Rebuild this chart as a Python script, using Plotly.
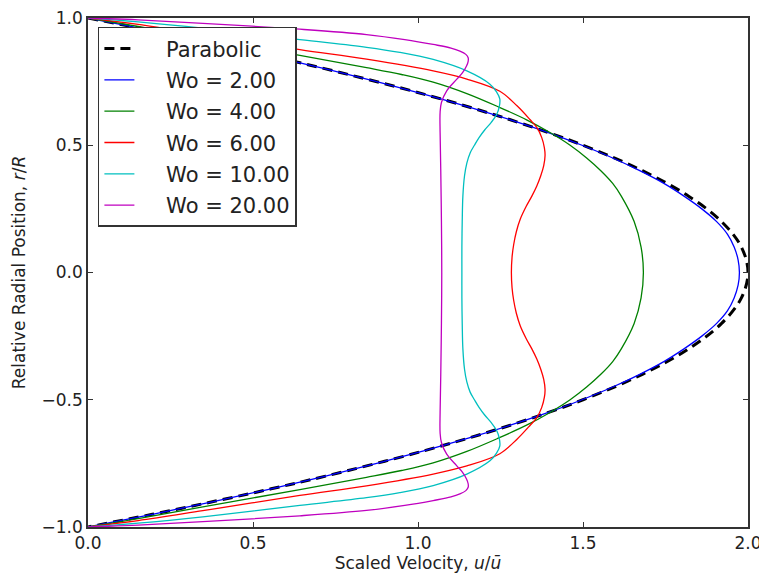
import plotly.graph_objects as go

# ---- data (upper half, wall r=1 -> centre r=0; profiles are symmetric) ----
r_parab = [1.0, 0.95, 0.9, 0.85, 0.8, 0.7, 0.6, 0.5, 0.4, 0.3, 0.2, 0.1, 0.0]
u_parab = [0.0, 0.195, 0.38, 0.555, 0.72, 1.02, 1.28, 1.5, 1.68, 1.82, 1.92, 1.98, 2.0]

r_wo2 = [1.0, 0.95, 0.9, 0.85, 0.8, 0.75, 0.7, 0.65, 0.6, 0.55, 0.5, 0.45, 0.4, 0.35, 0.3, 0.25, 0.2, 0.15, 0.1, 0.05, 0.0]
u_wo2 = [0.0, 0.195, 0.38, 0.555, 0.72, 0.875, 1.02, 1.155, 1.28, 1.395, 1.497, 1.59, 1.672, 1.745, 1.806, 1.86, 1.905, 1.938, 1.958, 1.97, 1.974]

r_wo4 = [1.0, 0.967, 0.921, 0.853, 0.805, 0.778, 0.748, 0.703, 0.65, 0.6, 0.55, 0.5, 0.45, 0.4, 0.35, 0.3, 0.2, 0.1, 0.0]
u_wo4 = [0.0, 0.152, 0.348, 0.642, 0.844, 0.95, 1.046, 1.148, 1.245, 1.329, 1.40, 1.461, 1.511, 1.554, 1.59, 1.616, 1.655, 1.676, 1.683]

r_wo6 = [1.0, 0.975, 0.936, 0.876, 0.838, 0.792, 0.76, 0.712, 0.655, 0.6, 0.57, 0.53, 0.49, 0.46, 0.42, 0.38, 0.34, 0.3, 0.26, 0.21, 0.16, 0.11, 0.06, 0.0]
u_wo6 = [0.0, 0.152, 0.348, 0.642, 0.844, 1.046, 1.148, 1.248, 1.30, 1.34, 1.36, 1.375, 1.383, 1.385, 1.381, 1.372, 1.36, 1.345, 1.328, 1.31, 1.298, 1.29, 1.285, 1.283]

r_wo10 = [1.0, 0.985, 0.96, 0.915, 0.885, 0.865, 0.837, 0.792, 0.74, 0.71, 0.681, 0.65, 0.62, 0.59, 0.56, 0.53, 0.5, 0.47, 0.43, 0.38, 0.3, 0.2, 0.1, 0.0]
u_wo10 = [0.0, 0.152, 0.348, 0.642, 0.844, 0.945, 1.046, 1.148, 1.218, 1.238, 1.248, 1.246, 1.238, 1.222, 1.202, 1.185, 1.171, 1.158, 1.148, 1.141, 1.136, 1.134, 1.133, 1.133]

r_wo20 = [1.0, 0.993, 0.979, 0.956, 0.935, 0.915, 0.896, 0.882, 0.87, 0.857, 0.844, 0.83, 0.811, 0.785, 0.759, 0.714, 0.668, 0.63, 0.55, 0.4, 0.2, 0.0]
u_wo20 = [0.0, 0.152, 0.348, 0.642, 0.844, 0.96, 1.046, 1.10, 1.127, 1.145, 1.152, 1.152, 1.147, 1.135, 1.117, 1.087, 1.071, 1.067, 1.067, 1.069, 1.071, 1.072]

NB = "\u00a0\u00a0\u00a0\u00a0"
series = [
    ("Parabolic", r_parab, u_parab, "black", 3, "10px,6px"),
    ("Wo = 2.00", r_wo2, u_wo2, "#0000ff", 1.3, "solid"),
    ("Wo = 4.00", r_wo4, u_wo4, "#008000", 1.3, "solid"),
    ("Wo = 6.00", r_wo6, u_wo6, "#ff0000", 1.3, "solid"),
    ("Wo = 10.00", r_wo10, u_wo10, "#00bfbf", 1.3, "solid"),
    ("Wo = 20.00", r_wo20, u_wo20, "#bf00bf", 1.3, "solid"),
]

x_ticks = [0.0, 0.5, 1.0, 1.5, 2.0]
x_ticktext = ["0.0", "0.5", "1.0", "1.5", "2.0"]
y_ticks = [-1.0, -0.5, 0.0, 0.5, 1.0]
y_ticktext = ["\u22121.0", "\u22120.5", "0.0", "0.5", "1.0"]


def mirror(r, u):
    rr = list(r) + [-v for v in reversed(r[:-1])]
    uu = list(u) + list(reversed(u[:-1]))
    return rr, uu


fig = go.Figure()
for i, (name, r, u, col, w, dash) in enumerate(series):
    rr, uu = mirror(r, u)
    fig.add_trace(go.Scatter(
        x=uu, y=rr, mode="lines", name=NB + name, legendgroup=f"g{i}",
        line=dict(color=col, width=w, dash=dash, shape="spline", smoothing=1.0),
    ))

font = "DejaVu Sans, Verdana, sans-serif"
axis_common = dict(
    showline=True, linecolor="#333333", linewidth=1.5, mirror="ticks",
    ticks="inside", ticklen=5, tickwidth=1, tickcolor="#333333",
    showgrid=False, zeroline=False, automargin=False,
    ticklabeloverflow="allow",
    tickfont=dict(family=font, size=17, color="#222222"),
)

fig.update_layout(
    template="none",
    width=759, height=568,
    margin=dict(l=80, r=19, t=10, b=49),
    paper_bgcolor="white", plot_bgcolor="white",
    font=dict(family=font, color="#222222"),
    xaxis=dict(range=[0, 2], tickvals=x_ticks, ticktext=x_ticktext,
               title=dict(text="Scaled Velocity, <i>u</i>/<i>ū</i>", font=dict(size=17), standoff=5),
               **axis_common),
    yaxis=dict(range=[-1, 1], tickvals=y_ticks, ticktext=y_ticktext,
               title=dict(text="Relative Radial Position, <i>r</i>/<i>R</i>", font=dict(size=17), standoff=12),
               **axis_common),
    legend=dict(x=0.015, y=0.9824, xanchor="left", yanchor="top",
                bgcolor="white", bordercolor="#333333", borderwidth=1.5,
                font=dict(family=font, size=21, color="#222222"),
                tracegroupgap=1, itemwidth=30),
    showlegend=True,
)

fig.write_html("out.html")
